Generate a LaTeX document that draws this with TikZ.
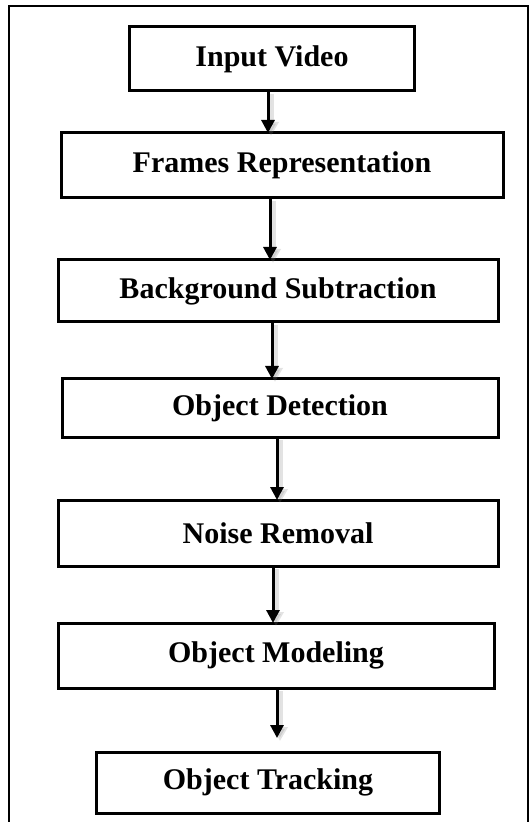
\documentclass[tikz,border=0pt]{standalone}
\usepackage{fontspec}
\setmainfont{Liberation Serif}
\usetikzlibrary{arrows.meta, positioning, calc}

\begin{document}
\begin{tikzpicture}[
        x=0.5pt, y=-0.5pt,
        node distance=30pt,
        stage/.style={draw, line width=1.5pt, inner sep=0pt, outer sep=0pt, align=center, font=\fontsize{15}{18}\selectfont\bfseries},
        arrow/.style={-{Triangle[width=6.5pt, length=6.5pt]}, line width=1.5pt},
        arrowshadow/.style={-{Triangle[width=7.5pt, length=7pt]}, line width=2.5pt, draw=gray, fill=gray, opacity=0.22}
    ]
    \useasboundingbox (0,0) rectangle (529,822);

    % page frame, open at the bottom
    \draw [line width=0.9pt] (9,822) -- (9,6) -- (528,6) -- (528,822);

    \node (input) [stage, minimum width=142.5pt, minimum height=32pt] at (272,59) {Input Video};
    \node (frames) [stage, minimum width=221pt, minimum height=32.5pt, below=21pt of input, xshift=5pt] {Frames Representation};
    \node (backsub) [stage, minimum width=220pt, minimum height=31pt, below=31pt of frames, xshift=-2pt] {Background Subtraction};
    \node (detect) [stage, minimum width=218pt, minimum height=29pt, below=28.5pt of backsub, xshift=1pt] {Object Detection};
    \node (noise) [stage, minimum width=220pt, minimum height=33pt, below=31.5pt of detect, xshift=-1pt] {Noise Removal};
    \node (model) [stage, minimum width=218pt, minimum height=32.5pt, below=28.5pt of noise, xshift=-1pt] {Object Modeling};
    \node (track) [stage, minimum width=171.5pt, minimum height=30.5pt, below=32pt of model, xshift=-4pt] {Object Tracking};

    % arrows between the stages (x offset from the upper box centre, in px)
    \foreach \a/\b/\dx/\gap in {input/frames/-4/0, frames/backsub/-12/0, backsub/detect/-6/0,
                                detect/noise/-3/0, noise/model/-5/0, model/track/1/14} {
        \draw [arrowshadow, shorten >=\gap*0.5pt] ($(\a.south)+(\dx+3,3)$) -- ($(\a.south |- \b.north)+(\dx+3,3)$);
        \draw [arrow, shorten >=\gap*0.5pt] ($(\a.south)+(\dx,0)$) -- ($(\a.south |- \b.north)+(\dx,0)$);
    }

\end{tikzpicture}
\end{document}
